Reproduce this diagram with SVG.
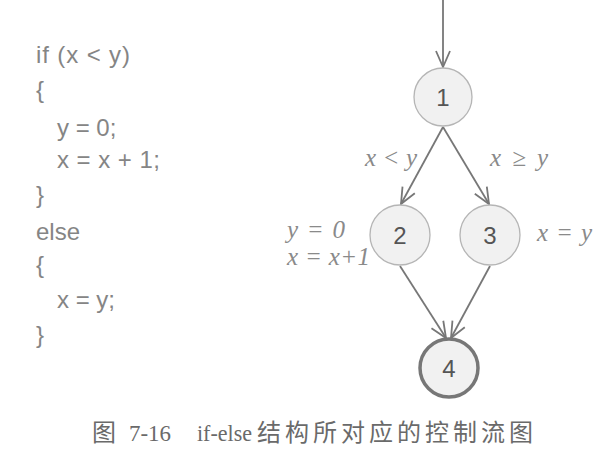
<svg xmlns="http://www.w3.org/2000/svg" width="610" height="468" viewBox="0 0 610 468">
<defs>
<marker id="ah" viewBox="0 0 20 20" refX="18" refY="10" markerWidth="20" markerHeight="20" markerUnits="userSpaceOnUse" orient="auto">
<path d="M2,3 L18,10 L2,17" fill="none" stroke="#777" stroke-width="1.8"/>
</marker>
<style>
.code{font-family:"Liberation Sans",Arial,sans-serif;font-size:24px;fill:#858585}
.lbl{font-family:"Liberation Serif","Times New Roman",serif;font-style:italic;font-size:25px;fill:#8a8a8a}
.node circle{fill:#f1f1f1;stroke:#b5b5b5;stroke-width:1.3}
.node text{font-family:"Liberation Sans",Arial,sans-serif;font-size:24px;fill:#555;text-anchor:middle}
.edge{stroke:#777;stroke-width:1.8;fill:none;marker-end:url(#ah)}
.cap{font-family:"Liberation Serif","Noto Sans CJK SC",serif;font-size:24px;fill:#6a6a6a}
</style>
</defs>
<rect width="610" height="468" fill="#fff"/>
<g id="code">
<text class="code" x="36" y="63" textLength="94" lengthAdjust="spacing">if (x &lt; y)</text>
<text class="code" x="36" y="98">{</text>
<text class="code" x="57" y="136">y = 0;</text>
<text class="code" x="57" y="168" textLength="103" lengthAdjust="spacing">x = x + 1;</text>
<text class="code" x="36" y="203">}</text>
<text class="code" x="36" y="240">else</text>
<text class="code" x="36" y="273">{</text>
<text class="code" x="57" y="308">x = y;</text>
<text class="code" x="36" y="343">}</text>
</g>
<g id="connectors">
<line class="edge" x1="443" y1="0" x2="443" y2="67"/>
<line class="edge" x1="443" y1="127" x2="401" y2="204"/>
<line class="edge" x1="443" y1="127" x2="489" y2="204"/>
<line class="edge" x1="400" y1="266" x2="446" y2="338"/>
<line class="edge" x1="490" y1="266" x2="451" y2="338"/>
</g>
<g id="labels">
<text class="lbl" x="365" y="166" textLength="52" lengthAdjust="spacing">x &lt; y</text>
<text class="lbl" x="490" y="166" textLength="58" lengthAdjust="spacing">x ≥ y</text>
<text class="lbl" x="287" y="238" textLength="58" lengthAdjust="spacing">y = 0</text>
<text class="lbl" x="287" y="265" textLength="83" lengthAdjust="spacing">x = x+1</text>
<text class="lbl" x="537" y="241" textLength="55" lengthAdjust="spacing">x = y</text>
</g>
<g id="n1" class="node"><circle cx="443" cy="97" r="29"/><text x="443" y="106">1</text></g>
<g id="n2" class="node"><circle cx="400" cy="235" r="30"/><text x="400" y="244">2</text></g>
<g id="n3" class="node"><circle cx="490" cy="235" r="30"/><text x="490" y="244">3</text></g>
<g id="n4" class="node"><circle cx="449" cy="368" r="29" style="stroke:#777;stroke-width:3.5"/><text x="449" y="377">4</text></g>
<g id="caption">
<text class="cap" x="92" y="441">图</text>
<text class="cap" x="129" y="441" textLength="42" lengthAdjust="spacingAndGlyphs">7-16</text>
<text class="cap" x="197" y="441" textLength="55" lengthAdjust="spacingAndGlyphs">if-else</text>
<text class="cap" x="257" y="441" textLength="276" lengthAdjust="spacing">结构所对应的控制流图</text>
</g>
</svg>
